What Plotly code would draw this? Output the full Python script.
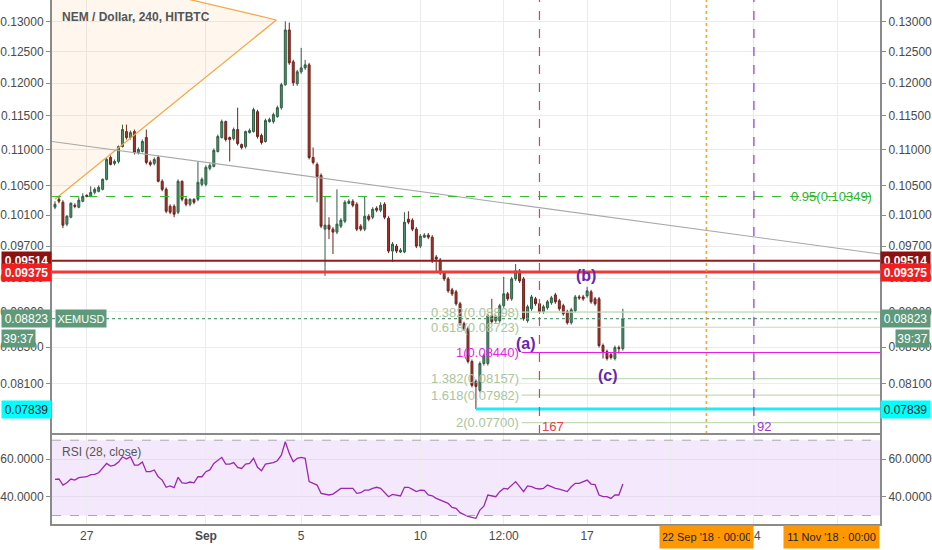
import numpy as np
import pandas as pd
import plotly.graph_objects as go

# XEMUSD 4h candles (HitBTC)
opens = [
    .10205, .10311, .10271, .09981, .10072, .10231, .10204, .10284, .10365, .10351,
    .10405, .10419, .10446, .10583, .10890, .10806, .10834, .11047, .11265, .11178,
    .11265, .10962, .10976, .11178, .10820, .10806, .10890, .10556, .10446, .10217,
    .10217, .10138, .10556, .10311, .10244, .10311, .10311, .10514, .10514, .10736,
    .10764, .10976, .11178, .11413, .11178, .11163, .11295, .11076, .11047, .11250,
    .11265, .11562, .11207, .11120, .11413, .11413, .11487, .11622, .11976, .12865,
    .12340, .11992, .12180, .12243, .12292, .10890, .10792, .10638, .09916, .09968,
    .09916, .09878, .09955, .10020, .10257, .10284, .10244, .09955, .09916, .10085,
    .10072, .10191, .10165, .10244, .10059, .09636, .09699, .09624, .09624, .10046,
    .10033, .09916, .09699, .09813, .09839, .09813, .09561, .09524, .09364, .09292,
    .09160, .09136, .08995, .08764, .08707, .08341, .08127, .08032, .08319, .08319,
    .08855, .08798, .08798, .08972, .09112, .09053, .09292, .09389, .09292, .08798,
    .08936, .09053, .08995, .08901, .08948, .09007, .09100, .09030, .08972, .08901,
    .08775, .08913, .09076, .09076, .09088, .09136, .09053, .09053, .08517, .08450,
    .08417, .08374, .08494, .08483,
]
highs = [
    .10284, .10351, .10298, .10099, .10271, .10257, .10338, .10392, .10378, .10487,
    .10473, .10500, .10597, .10890, .10919, .10862, .11062, .11368, .11368, .11280,
    .11295, .11033, .11149, .11295, .10848, .10890, .10919, .10583, .10473, .10244,
    .10244, .10583, .10569, .10338, .10324, .10324, .10834, .10610, .10778, .10806,
    .11019, .11221, .11443, .11428, .11192, .11324, .11622, .11091, .11280, .11310,
    .11622, .11592, .11236, .11458, .11472, .11547, .11653, .12007, .13010, .12990,
    .12372, .12212, .12567, .12372, .12324, .11033, .10820, .10666, .10351, .10072,
    .09942, .10446, .10059, .10298, .10311, .10311, .10271, .09981, .10351, .10112,
    .10204, .10217, .10271, .10271, .10085, .09750, .09724, .09674, .10138, .10151,
    .10059, .09942, .09852, .09865, .09865, .09839, .09586, .09549, .09389, .09316,
    .09184, .09160, .09018, .08787, .08730, .08363, .08148, .08341, .08428, .08878,
    .09053, .08867, .08995, .09316, .09136, .09316, .09475, .09413, .09316, .08983,
    .09100, .09076, .09018, .08983, .09041, .09088, .09124, .09053, .08995, .08925,
    .08948, .09100, .09100, .09100, .09196, .09160, .09076, .09076, .08539, .08472,
    .08439, .08517, .08517, .08936,
]
lows = [
    .10178, .10257, .09929, .09955, .10059, .10191, .10191, .10271, .10338, .10338,
    .10378, .10405, .10432, .10569, .10778, .10778, .10806, .11033, .11149, .11149,
    .10933, .10933, .10962, .10792, .10764, .10778, .10542, .10419, .10125, .10112,
    .10072, .10112, .10284, .10217, .10217, .10244, .10284, .10487, .10487, .10708,
    .10750, .10962, .11163, .11120, .10834, .11135, .11062, .11005, .11019, .11236,
    .11250, .11163, .11076, .11105, .11398, .11383, .11472, .11592, .11960, .12292,
    .11960, .11960, .12149, .12212, .10862, .10792, .10271, .09929, .09328, .09788,
    .09599, .09852, .09929, .09994, .10244, .10204, .09890, .09890, .09890, .10020,
    .10046, .10138, .10138, .10046, .09611, .09499, .09611, .09611, .09611, .09981,
    .09890, .09674, .09674, .09801, .09788, .09487, .09389, .09340, .09268, .09124,
    .09088, .08972, .08741, .08684, .08319, .08064, .07839, .08012, .08297, .08297,
    .08764, .08775, .08775, .08948, .09030, .09030, .09268, .09243, .08798, .08775,
    .08913, .08972, .08878, .08878, .08925, .08983, .08995, .08913, .08855, .08753,
    .08753, .08890, .09041, .09030, .09065, .08995, .08972, .08494, .08374, .08352,
    .08363, .08352, .08428, .08461,
]
closes = [
    .10244, .10284, .09968, .10085, .10257, .10217, .10298, .10351, .10351, .10405,
    .10446, .10473, .10583, .10862, .10792, .10834, .11047, .11295, .11178, .11250,
    .10962, .11005, .11120, .10820, .10792, .10862, .10556, .10446, .10151, .10138,
    .10112, .10556, .10311, .10244, .10311, .10271, .10542, .10583, .10750, .10778,
    .10991, .11192, .11413, .11149, .11149, .11295, .11091, .11033, .11265, .11280,
    .11592, .11192, .11105, .11428, .11443, .11517, .11622, .11976, .12865, .12324,
    .12007, .12180, .12243, .12292, .10890, .10820, .10624, .09955, .09968, .09916,
    .09878, .09981, .10033, .10271, .10284, .10231, .09916, .09916, .10085, .10046,
    .10178, .10165, .10231, .10072, .09636, .09724, .09636, .09648, .10007, .10007,
    .09916, .09699, .09826, .09839, .09813, .09512, .09536, .09364, .09292, .09148,
    .09112, .08995, .08764, .08707, .08341, .08085, .08074, .08319, .08406, .08855,
    .08787, .08844, .08972, .09112, .09053, .09292, .09389, .09268, .08821, .08960,
    .09076, .08995, .08901, .08960, .09018, .09065, .09018, .08936, .08878, .08775,
    .08925, .09076, .09065, .09053, .09148, .09018, .08995, .08517, .08450, .08374,
    .08385, .08494, .08483, .08823,
]
rsi = [
    49.2, 49.4, 46.2, 47.4, 49.4, 48.8, 50.1, 50.4, 50.6, 51.7,
    51.9, 52.7, 55.0, 57.7, 56.3, 56.8, 58.4, 61.2, 60.0, 61.2,
    56.8, 56.8, 58.4, 53.3, 53.3, 54.2, 50.6, 48.8, 45.0, 45.7,
    44.8, 50.3, 47.4, 47.1, 47.8, 47.4, 50.6, 50.6, 53.3, 54.2,
    57.7, 59.5, 60.9, 57.3, 57.3, 58.1, 55.6, 55.0, 57.3, 57.7,
    60.4, 55.6, 53.8, 57.3, 57.7, 58.1, 59.1, 62.1, 69.2, 63.0,
    58.6, 60.4, 60.9, 60.4, 48.0, 47.1, 46.2, 41.8, 41.4, 40.9,
    41.4, 42.7, 44.4, 44.4, 44.4, 44.4, 41.8, 42.1, 43.5, 43.5,
    44.4, 45.0, 44.4, 42.1, 40.0, 41.2, 40.9, 40.4, 45.0, 45.0,
    43.9, 42.7, 43.5, 43.4, 40.9, 40.5, 39.1, 38.2, 37.3, 36.5,
    34.3, 33.8, 31.5, 30.3, 29.5, 29.0, 28.5, 32.9, 35.0, 40.9,
    40.4, 40.0, 42.7, 44.4, 44.1, 46.2, 48.0, 45.3, 42.7, 45.7,
    45.3, 44.4, 44.1, 44.4, 46.2, 45.3, 44.4, 44.0, 43.5, 42.7,
    45.3, 47.1, 47.1, 48.0, 48.8, 46.7, 46.4, 40.9, 40.0, 40.0,
    39.1, 40.9, 40.9, 46.7,
]
times = pd.date_range("2018-08-25 16:00", periods=len(closes), freq="4h")

# levels and drawings
level_hi = 0.09514
level_lo = 0.09375
last_price = 0.08823
swing_low = 0.07839
swing_low_time = "2018-09-12 08:00"
target_95 = 0.10349
fib_ratios = ["0.382", "0.618", "1", "1.382", "1.618", "2"]
fib_prices = [0.08898, 0.08723, 0.08440, 0.08157, 0.07982, 0.07700]
fib_start = "2018-09-14 06:00"
trend_x = ["2018-08-25 13:00", "2018-09-29 07:00"]
trend_y = [0.11120, 0.09599]
tri_x = ["2018-08-25 16:00", "2018-09-03 23:00", "2018-08-25 04:00"]
tri_y = [0.10311, 0.13034, 0.14006]
wave_labels = ["(a)", "(b)", "(c)"]
wave_x = ["2018-09-14 10:00", "2018-09-16 23:00", "2018-09-17 21:00"]
wave_y = [0.08539, 0.09328, 0.08191]
red_vline = "2018-09-15 00:00"
orange_vline = "2018-09-22 00:00"
purple_vline = "2018-09-24 00:00"

price_ticks = [0.130, 0.125, 0.120, 0.115, 0.110, 0.105, 0.101, 0.097, 0.093, 0.089, 0.085, 0.081]
rsi_ticks = [40, 60]
x_ticks = ["2018-08-27", "2018-09-01", "2018-09-05", "2018-09-10", "2018-09-13 12:00",
           "2018-09-17", "2018-09-20 12:00", "2018-09-24", "2018-09-27 12:00"]
# labels at 20 12:00 and 27 12:00 sit under the orange time boxes
x_labels = ["27", "<b>Sep</b>", "5", "10", "12:00", "17", "", "24", ""]

X0, X1 = "2018-08-25 13:00", "2018-09-29 07:00"
PRICE_RANGE = [np.log10(0.07587), np.log10(0.13379)]
RSI_RANGE = [25.5, 73.3]
SPLIT = 90 / 524  # top of RSI pane

FONT = "Liberation Sans"
AXIS_COL = "#8a8a8a"
GRID = "#ececec"

fig = go.Figure()

# orange triangle: soft fill + two edges
fig.add_trace(go.Scatter(
    x=[tri_x[0], tri_x[1], tri_x[2], tri_x[2], tri_x[0]],
    y=[tri_y[0], tri_y[1], tri_y[2], tri_y[0], tri_y[0]],
    mode="lines", fill="toself", fillcolor="rgba(255,150,40,0.08)",
    line=dict(width=0), hoverinfo="skip", showlegend=False))
fig.add_trace(go.Scatter(
    x=[tri_x[2], tri_x[1], tri_x[0]], y=[tri_y[2], tri_y[1], tri_y[0]],
    mode="lines", line=dict(color="#f7a541", width=1.2), hoverinfo="skip", showlegend=False))

# gray trend line
fig.add_trace(go.Scatter(x=trend_x, y=trend_y, mode="lines",
                         line=dict(color="#a8a8a8", width=1.2), hoverinfo="skip", showlegend=False))


def hline(y, color, width, dash="solid", start=X0):
    fig.add_trace(go.Scatter(x=[start, X1], y=[y, y], mode="lines",
                             line=dict(color=color, width=width, dash=dash),
                             hoverinfo="skip", showlegend=False))


hline(target_95, "#33b833", 1, "dash")
for r, p in zip(fib_ratios, fib_prices):
    hline(p, "#e61ee6" if r == "1" else "#c4dbb8", 1.2, start=fib_start)
hline(last_price, "#5e9a7a", 1.2, "dot")
hline(swing_low, "#19ecff", 3, start=swing_low_time)
hline(level_lo, "#f03a3a", 3)
hline(level_hi, "#941b1b", 2)

fig.add_trace(go.Candlestick(
    x=times, open=opens, high=highs, low=lows, close=closes,
    increasing=dict(line=dict(color="#2e5d43", width=1), fillcolor="#4e9470"),
    decreasing=dict(line=dict(color="#6b231c", width=1), fillcolor="#a8352b"),
    hoverinfo="skip", showlegend=False))

fig.add_trace(go.Scatter(x=times, y=rsi, yaxis="y2", mode="lines",
                         line=dict(color="#9c27b0", width=1.3), hoverinfo="skip", showlegend=False))

# dummies so the right-hand axes are drawn
fig.add_trace(go.Scatter(x=[times[0]], y=[0.1], yaxis="y3", mode="markers",
                         marker=dict(opacity=0), hoverinfo="skip", showlegend=False))
fig.add_trace(go.Scatter(x=[times[0]], y=[50], yaxis="y4", mode="markers",
                         marker=dict(opacity=0), hoverinfo="skip", showlegend=False))

shapes = [
    dict(type="rect", xref="x domain", x0=0, x1=1, yref="y2", y0=30, y1=70,
         fillcolor="#f3e8fc", line=dict(width=0), layer="below"),
    dict(type="line", xref="x domain", x0=0, x1=1, yref="y2", y0=70, y1=70,
         line=dict(color="#a9a9a9", width=1, dash="dash")),
    dict(type="line", xref="x domain", x0=0, x1=1, yref="y2", y0=30, y1=30,
         line=dict(color="#a9a9a9", width=1, dash="dash")),
    dict(type="line", xref="x", x0=red_vline, x1=red_vline, yref="y domain", y0=0, y1=1,
         line=dict(color="#e2404b", width=1.2, dash="dash")),
    dict(type="line", xref="x", x0=orange_vline, x1=orange_vline, yref="y domain", y0=0, y1=1,
         line=dict(color="#ff9800", width=1.2, dash="dot")),
    dict(type="line", xref="x", x0=purple_vline, x1=purple_vline, yref="y domain", y0=0, y1=1,
         line=dict(color="#9a36d8", width=1.2, dash="dash")),
    dict(type="line", xref="paper", x0=0, x1=1, yref="paper", y0=SPLIT, y1=SPLIT,
         line=dict(color=AXIS_COL, width=2)),
]

ann = []


def axis_box(y, text, bg, fg="white", bold=True):
    t = f"<b>{text}</b>" if bold else text
    for x, anchor in ((0, "right"), (1, "left")):
        ann.append(dict(xref="paper", x=x, xanchor=anchor, yref="y", y=np.log10(y),
                        text=t, showarrow=False, bgcolor=bg, width=47, height=15, borderpad=1,
                        font=dict(family=FONT, size=12, color=fg)))


axis_box(level_hi, f"{level_hi:.5f}", "#8e1010")
axis_box(level_lo, f"{level_lo:.5f}", "#f41c1c")
axis_box(last_price, f"{last_price:.5f}", "#5e9a7a", bold=False)
axis_box(swing_low, f"{swing_low:.5f}", "#00ffff", fg="#1a1a1a", bold=False)

countdown_y = np.log10(last_price) - 20 / 434 * (PRICE_RANGE[1] - PRICE_RANGE[0])
ann.append(dict(xref="paper", x=0, xanchor="right", xshift=-16, yref="y", y=countdown_y,
                text="39:37", showarrow=False, bgcolor="#5e9a7a", width=31, height=15, borderpad=1,
                font=dict(family=FONT, size=12, color="white")))
ann.append(dict(xref="paper", x=1, xanchor="left", xshift=15, yref="y", y=countdown_y,
                text="39:37", showarrow=False, bgcolor="#5e9a7a", width=31, height=15, borderpad=1,
                font=dict(family=FONT, size=12, color="white")))
ann.append(dict(xref="paper", x=0, xanchor="left", xshift=3, yref="y", y=np.log10(last_price),
                text="XEMUSD", showarrow=False, bgcolor="#5e9a7a", width=48, height=15, borderpad=1,
                font=dict(family=FONT, size=11, color="white")))

for r, p in zip(fib_ratios, fib_prices):
    ann.append(dict(xref="x", x=fib_start, xanchor="right", xshift=-1, yref="y", y=np.log10(p),
                    text=f"{r}({p:.5f})", showarrow=False,
                    font=dict(family=FONT, size=13, color="#e61ee6" if r == "1" else "#aac59c")))

ann.append(dict(xref="paper", x=1, xanchor="right", xshift=-6, yref="y", y=np.log10(target_95),
                text=f"0.95({target_95:.5f})", showarrow=False,
                font=dict(family=FONT, size=13, color="#2fb52f")))

for t, x, y in zip(wave_labels, wave_x, wave_y):
    ann.append(dict(xref="x", x=x, yref="y", y=np.log10(y), text=f"<b>{t}</b>", showarrow=False,
                    font=dict(family=FONT, size=16, color="#6a25b0")))

bottom_lbl_y = np.log10(0.07666)
ann.append(dict(xref="x", x=red_vline, xanchor="left", xshift=1, yref="y", y=bottom_lbl_y,
                text="167", showarrow=False, font=dict(family=FONT, size=13, color="#e2404b")))
ann.append(dict(xref="x", x=purple_vline, xanchor="left", xshift=1, yref="y", y=bottom_lbl_y,
                text="92", showarrow=False, font=dict(family=FONT, size=13, color="#9a36d8")))

ann.append(dict(xref="paper", x=0, xanchor="left", xshift=8, yref="paper", y=1, yanchor="top",
                yshift=-8, text="<b>NEM / Dollar, 240, HITBTC</b>", showarrow=False,
                font=dict(family=FONT, size=12, color="#555555")))
ann.append(dict(xref="paper", x=0, xanchor="left", xshift=8, yref="y2", y=63.7,
                text="RSI (28, close)", showarrow=False,
                font=dict(family=FONT, size=12, color="#555555")))

ann.append(dict(xref="x", x=orange_vline, yref="paper", y=0, yanchor="top", yshift=-1,
                text="22 Sep '18 · 00:00", showarrow=False, bgcolor="#ff9800",
                width=87, height=16, borderpad=3, font=dict(family=FONT, size=11, color="#222222")))
ann.append(dict(xref="paper", x=1, xanchor="right", xshift=0, yref="paper", y=0, yanchor="top",
                yshift=-1, text="11 Nov '18 · 00:00", showarrow=False, bgcolor="#ff9800",
                width=89, height=16, borderpad=3, font=dict(family=FONT, size=11, color="#222222")))

price_text = [f"{v:.5f}" for v in price_ticks]
rsi_text = [f"{v:.4f}" for v in rsi_ticks]
tickfont = dict(family=FONT, size=12, color="#4a4a4a")

price_axis = dict(type="log", range=PRICE_RANGE, domain=[SPLIT, 1], tickvals=price_ticks,
                  ticktext=price_text, tickfont=tickfont, showline=True, linecolor=AXIS_COL,
                  linewidth=2, ticks="outside", ticklen=4, tickcolor=AXIS_COL, zeroline=False)
rsi_axis = dict(range=RSI_RANGE, domain=[0, SPLIT], tickvals=rsi_ticks, ticktext=rsi_text,
                tickfont=tickfont, showline=True, linecolor=AXIS_COL, linewidth=2,
                ticks="outside", ticklen=4, tickcolor=AXIS_COL, zeroline=False)

fig.update_layout(
    width=932, height=550,
    margin=dict(l=49, r=49, t=0, b=26),
    paper_bgcolor="white", plot_bgcolor="white",
    showlegend=False,
    font=dict(family=FONT),
    xaxis=dict(type="date", range=[X0, X1], anchor="y2", tickvals=x_ticks, ticktext=x_labels,
               tickfont=tickfont, showgrid=True, gridcolor=GRID, showline=True,
               linecolor=AXIS_COL, linewidth=2, ticks="", rangeslider=dict(visible=False)),
    yaxis=dict(side="left", showgrid=True, gridcolor=GRID, **price_axis),
    yaxis3=dict(side="right", overlaying="y", showgrid=False, **price_axis),
    yaxis2=dict(side="left", anchor="x", showgrid=True, gridcolor="#e6dcef", **rsi_axis),
    yaxis4=dict(side="right", overlaying="y2", showgrid=False, **rsi_axis),
    shapes=shapes,
    annotations=ann,
)

# the page's default body margin would push the figure off the 932x550 window
fig.write_html("out.html", config={"displayModeBar": False},
               post_script="document.body.style.margin='0';")
